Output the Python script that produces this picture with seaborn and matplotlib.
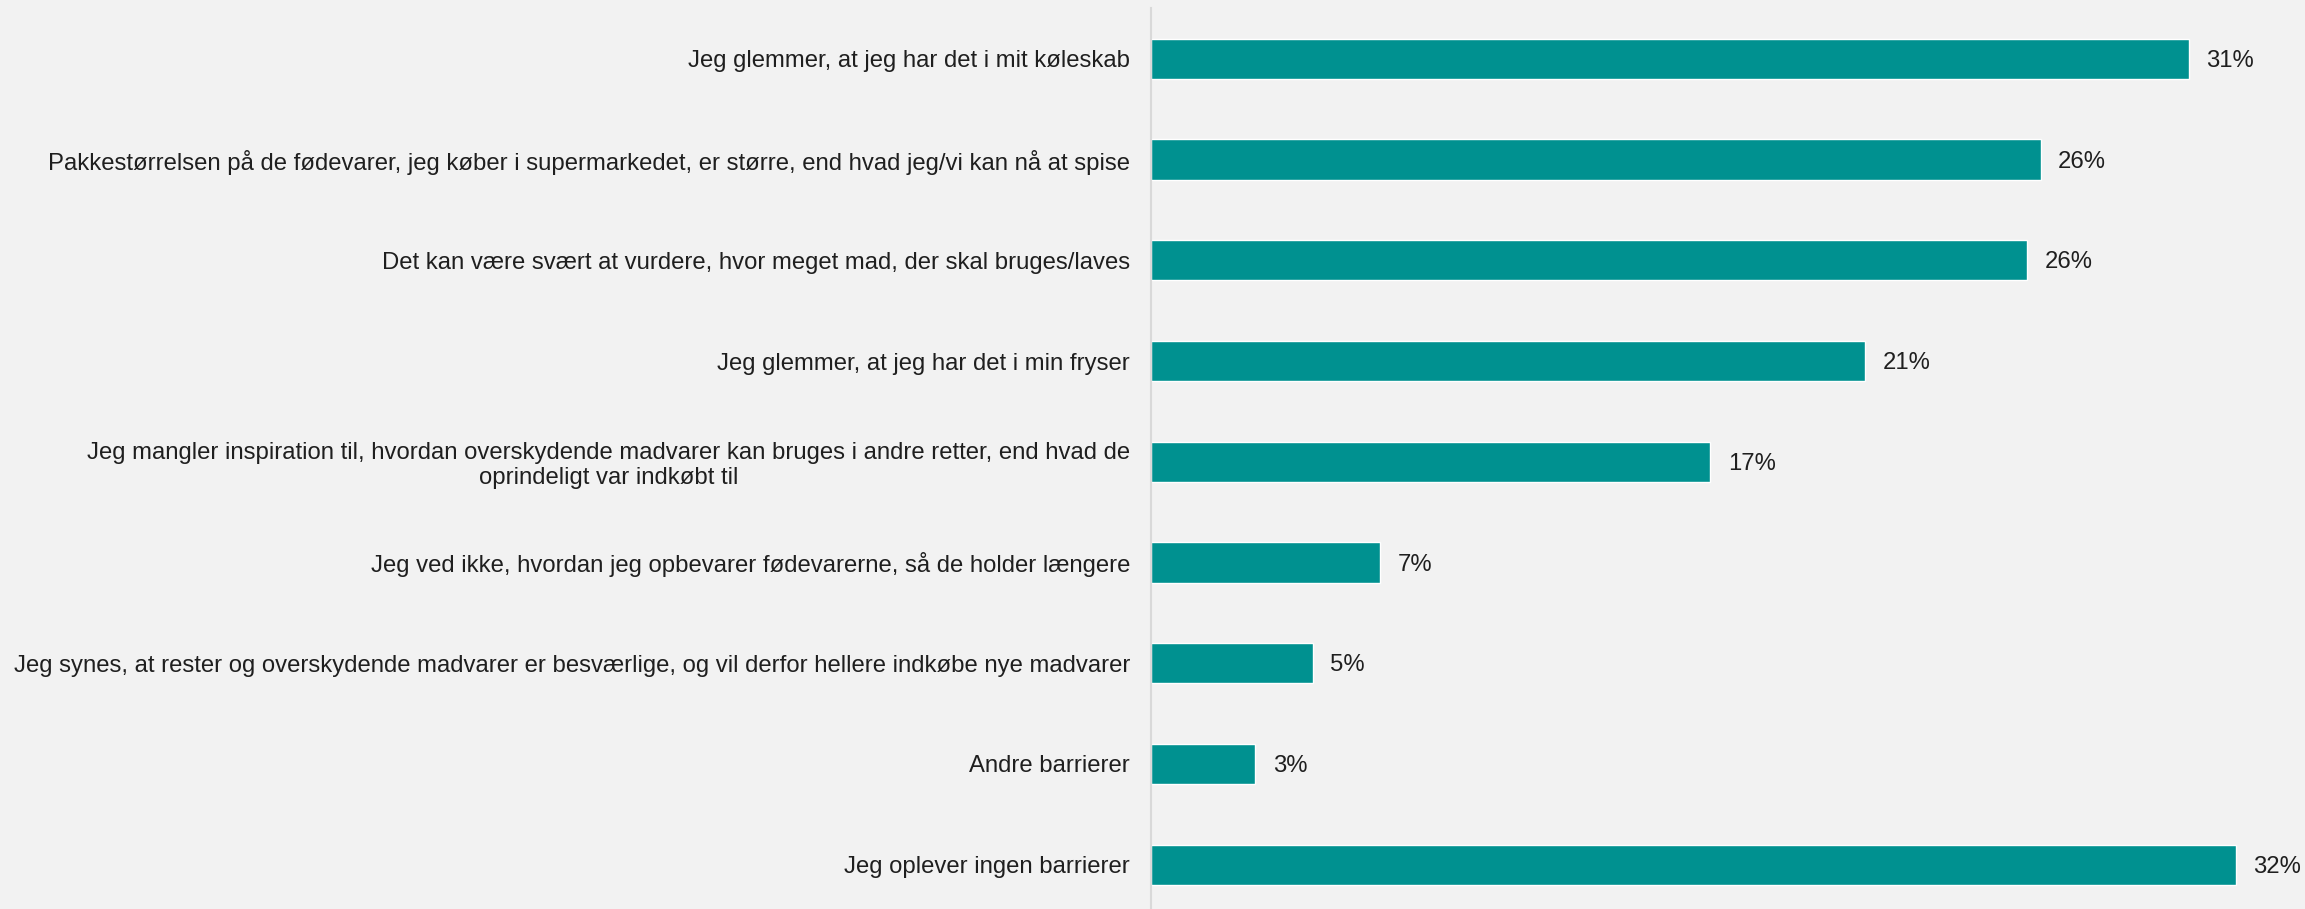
import matplotlib
matplotlib.use("Agg")
import matplotlib.pyplot as plt
import pandas as pd
import seaborn as sns

categories = [
    "Jeg glemmer, at jeg har det i mit køleskab",
    "Pakkestørrelsen på de fødevarer, jeg køber i supermarkedet, er større, end hvad jeg/vi kan nå at spise",
    "Det kan være svært at vurdere, hvor meget mad, der skal bruges/laves",
    "Jeg glemmer, at jeg har det i min fryser",
    "Jeg mangler inspiration til, hvordan overskydende madvarer kan bruges i andre retter, end hvad de\noprindeligt var indkøbt til",
    "Jeg ved ikke, hvordan jeg opbevarer fødevarerne, så de holder længere",
    "Jeg synes, at rester og overskydende madvarer er besværlige, og vil derfor hellere indkøbe nye madvarer",
    "Andre barrierer",
    "Jeg oplever ingen barrierer",
]
shares = [30.8, 26.4, 26.0, 21.2, 16.6, 6.8, 4.8, 3.1, 32.2]

df = pd.DataFrame({"category": categories, "share": shares})

BG = "#F2F2F2"
BAR = "#009190"
TEXT = "#1F1F1F"
FS = 17.2

sns.set_theme(style="white")
plt.rcParams["font.family"] = ["Liberation Sans", "DejaVu Sans"]

W, H = 2305, 909
fig = plt.figure(figsize=(W / 100, H / 100), dpi=100, facecolor=BG)
left = 1151 / W
ax = fig.add_axes([left, 0, 1 - left, 900.5 / H])
ax.set_facecolor(BG)

sns.barplot(data=df, x="share", y="category", orient="h", color=BAR,
            saturation=1, width=0.4, ax=ax)

ax.set_xlim(0, 34.25)
ax.set_ylim(8.44, -0.5)
ax.set_xticks([])
ax.set_xlabel("")
ax.set_ylabel("")

for side in ("top", "right", "bottom"):
    ax.spines[side].set_visible(False)
ax.spines["left"].set_color("#D9D9D9")
ax.spines["left"].set_linewidth(1.5)

ax.tick_params(axis="y", length=0, pad=15, labelsize=FS, labelcolor=TEXT)
for lbl in ax.get_yticklabels():
    lbl.set_multialignment("center")
    lbl.set_linespacing(1.15)

# Percentage labels just right of each bar end
for i, v in enumerate(shares):
    ax.annotate(f"{v:.0f}%", xy=(v, i), xytext=(12.5, -1.5),
                textcoords="offset points", ha="left", va="center",
                fontsize=FS, color=TEXT)

fig.savefig("out.png", dpi=100, facecolor=BG)
